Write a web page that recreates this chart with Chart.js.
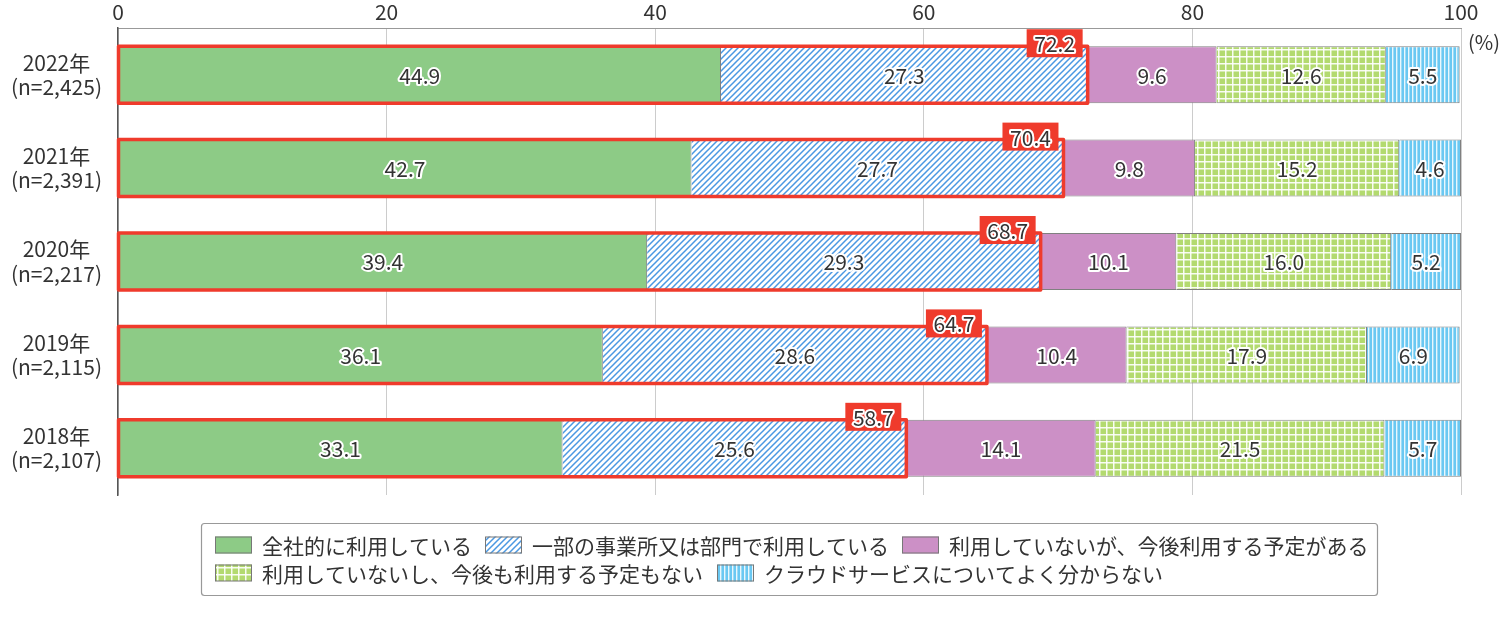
<!DOCTYPE html>
<html>
<head>
    <title>クラウドサービスの利用状況</title>
    <script src="https://cdn.jsdelivr.net/npm/chart.js"></script>
    <style>
        body { margin: 0; background: #fff; }
    </style>
</head>
<body>
    <canvas id="chart" width="1500" height="623"></canvas>

    <script>
        const years = [
            ['2022年', '(n=2,425)'],
            ['2021年', '(n=2,391)'],
            ['2020年', '(n=2,217)'],
            ['2019年', '(n=2,115)'],
            ['2018年', '(n=2,107)']
        ];
        const seriesNames = [
            '全社的に利用している',
            '一部の事業所又は部門で利用している',
            '利用していないが、今後利用する予定がある',
            '利用していないし、今後も利用する予定もない',
            'クラウドサービスについてよく分からない'
        ];
        const companyWide = [44.9, 42.7, 39.4, 36.1, 33.1];
        const someDivisions = [27.3, 27.7, 29.3, 28.6, 25.6];
        const plannedUse = [9.6, 9.8, 10.1, 10.4, 14.1];
        const noPlans = [12.6, 15.2, 16.0, 17.9, 21.5];
        const unknown = [5.5, 4.6, 5.2, 6.9, 5.7];
        const usingTotal = [72.2, 70.4, 68.7, 64.7, 58.7];

        const FONT = '"Noto Sans CJK JP", "Noto Sans", sans-serif';

        function makePattern(size, draw) {
            const c = document.createElement('canvas');
            c.width = size;
            c.height = size;
            draw(c.getContext('2d'), size);
            return c.getContext('2d').createPattern(c, 'repeat');
        }

        const hatchBlue = makePattern(6, (g, s) => {
            g.fillStyle = '#ffffff';
            g.fillRect(0, 0, s, s);
            g.strokeStyle = '#4a98e2';
            g.lineWidth = 1.5;
            g.beginPath();
            g.moveTo(-1, s + 1); g.lineTo(s + 1, -1);
            g.moveTo(-1, 1); g.lineTo(1, -1);
            g.moveTo(s - 1, s + 1); g.lineTo(s + 1, s - 1);
            g.stroke();
        });
        const gridGreen = makePattern(7, (g, s) => {
            g.fillStyle = '#b3da6f';
            g.fillRect(0, 0, s, s);
            g.fillStyle = 'rgba(255,255,255,0.9)';
            g.fillRect(0, 0, 1.5, s);
            g.fillRect(0, 0, s, 1.5);
        });
        const stripeBlue = makePattern(4, (g, s) => {
            g.fillStyle = '#6ac8f2';
            g.fillRect(0, 0, s, s);
            g.fillStyle = 'rgba(255,255,255,0.85)';
            g.fillRect(0, 0, 1.4, s);
        });

        const fills = ['#8dcb86', hatchBlue, '#cc90c6', gridGreen, stripeBlue];
        const values = [companyWide, someDivisions, plannedUse, noPlans, unknown];

        function outlinedText(ctx, text, x, y) {
            ctx.lineJoin = 'round';
            ctx.lineWidth = 4;
            ctx.strokeStyle = '#ffffff';
            ctx.strokeText(text, x, y);
            ctx.fillStyle = '#333333';
            ctx.fillText(text, x, y);
        }

        const barLabels = {
            id: 'barLabels',
            afterDatasetsDraw(chart) {
                const ctx = chart.ctx;
                ctx.save();
                ctx.font = '21px ' + FONT;
                ctx.textAlign = 'center';
                ctx.textBaseline = 'middle';
                chart.data.datasets.forEach((ds, i) => {
                    chart.getDatasetMeta(i).data.forEach((bar, j) => {
                        const p = bar.getProps(['x', 'base', 'y'], true);
                        outlinedText(ctx, ds.data[j].toFixed(1), (p.x + p.base) / 2, p.y + 1);
                    });
                });

                // red frame around the "using" part with total box
                const m0 = chart.getDatasetMeta(0).data;
                const m1 = chart.getDatasetMeta(1).data;
                m0.forEach((b0, j) => {
                    const b1 = m1[j];
                    const p0 = b0.getProps(['base', 'y', 'height'], true);
                    const p1 = b1.getProps(['x'], true);
                    const top = p0.y - p0.height / 2;
                    ctx.strokeStyle = '#ef3b2c';
                    ctx.lineWidth = 3.5;
                    ctx.strokeRect(p0.base, top, p1.x - p0.base, p0.height);

                    const bw = 56, bh = 28;
                    const bx = p1.x - 5 - bw;
                    const by = top - 3 - bh / 2;
                    ctx.fillStyle = '#ef3b2c';
                    ctx.fillRect(bx, by, bw, bh);
                    outlinedText(ctx, usingTotal[j].toFixed(1), bx + bw / 2, by + bh / 2 + 1);
                });
                ctx.restore();
            },
            afterDraw(chart) {
                const ctx = chart.ctx;
                ctx.save();
                ctx.font = '20px ' + FONT;
                ctx.fillStyle = '#333333';
                ctx.textAlign = 'center';
                ctx.textBaseline = 'middle';
                ctx.fillText('(%)', 1484, 42);

                // legend box
                ctx.strokeStyle = '#999999';
                ctx.lineWidth = 1.2;
                ctx.beginPath();
                ctx.roundRect(201.5, 523.5, 1176, 72, 3);
                ctx.stroke();

                const slots = [[215, 545], [485, 545], [902, 545], [215, 573], [717, 573]];
                ctx.font = '21px ' + FONT;
                ctx.textAlign = 'left';
                chart.data.datasets.forEach((ds, i) => {
                    const [sx, sy] = slots[i];
                    ctx.fillStyle = ds.backgroundColor;
                    ctx.fillRect(sx, sy - 8.5, 37, 17);
                    ctx.strokeStyle = '#777777';
                    ctx.lineWidth = 1;
                    ctx.strokeRect(sx + 0.5, sy - 8, 36, 16);
                    ctx.fillStyle = '#333333';
                    ctx.fillText(ds.label, sx + 47, sy + 1);
                });
                ctx.restore();
            }
        };

        new Chart(document.getElementById('chart').getContext('2d'), {
            type: 'bar',
            data: {
                labels: years,
                datasets: seriesNames.map((name, i) => ({
                    label: name,
                    data: values[i],
                    backgroundColor: fills[i],
                    borderColor: '#808080',
                    borderWidth: 1,
                    barPercentage: 0.61,
                    categoryPercentage: 1
                }))
            },
            options: {
                indexAxis: 'y',
                responsive: false,
                animation: false,
                devicePixelRatio: 1,
                layout: { padding: { top: 0, right: 39, bottom: 128, left: 0 } },
                plugins: {
                    legend: { display: false },
                    tooltip: { enabled: false }
                },
                scales: {
                    x: {
                        position: 'top',
                        stacked: true,
                        min: 0,
                        max: 100,
                        ticks: {
                            stepSize: 20,
                            color: '#333333',
                            padding: 3,
                            font: { family: FONT, size: 21 }
                        },
                        grid: { color: '#cccccc', drawTicks: false },
                        border: { color: '#999999' },
                        afterFit(scale) { scale.height = 28; }
                    },
                    y: {
                        stacked: true,
                        ticks: {
                            color: '#333333',
                            padding: 16,
                            crossAlign: 'center',
                            font: { family: FONT, size: 21, lineHeight: 1.15 }
                        },
                        grid: { display: false, drawTicks: false },
                        border: { color: '#555555', width: 1.5 },
                        afterFit(scale) {
                            scale.width = 118;
                            scale.paddingTop = 0;
                            scale.paddingBottom = 0;
                        }
                    }
                }
            },
            plugins: [barLabels]
        });
    </script>
</body>
</html>
